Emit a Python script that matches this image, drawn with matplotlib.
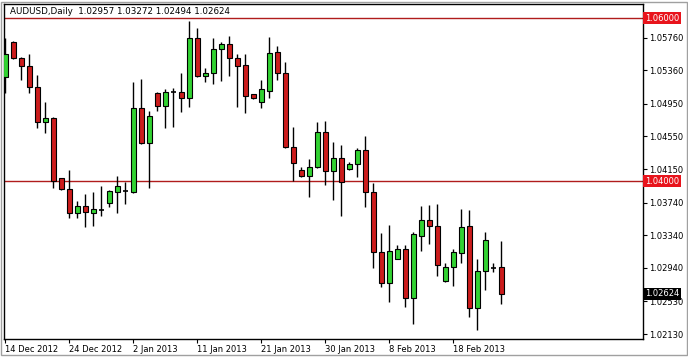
import matplotlib
matplotlib.use("Agg")
import matplotlib.pyplot as plt
import matplotlib.transforms as mtransforms
from matplotlib.patches import Rectangle
import numpy as np

symbol_title = "AUDUSD,Daily  1.02957 1.03272 1.02494 1.02624"

opens = [1.05282, 1.05711, 1.05508, 1.05410, 1.05152, 1.04731, 1.04773, 1.04038, 1.03903, 1.03609,
         1.03695, 1.03616, 1.03649, 1.03731, 1.03873, 1.03886, 1.03873, 1.04895, 1.04466, 1.05079,
         1.04927, 1.05099, 1.05091, 1.05018, 1.05762, 1.05295, 1.05331, 1.05618, 1.05679, 1.05517,
         1.05422, 1.05067, 1.04976, 1.05111, 1.05581, 1.05324, 1.04417, 1.04136, 1.04070, 1.04180,
         1.04601, 1.04131, 1.04283, 1.04148, 1.04209, 1.04381, 1.03866, 1.03139, 1.02751, 1.03049,
         1.03168, 1.02568, 1.03335, 1.03527, 1.03457, 1.02783, 1.02947, 1.03126, 1.03453, 1.02445,
         1.02898, 1.02943, 1.02957]
highs = [1.05753, 1.05720, 1.05527, 1.05557, 1.05303, 1.04969, 1.04792, 1.04045, 1.04139, 1.03760,
         1.03842, 1.03866, 1.03943, 1.03894, 1.04066, 1.03996, 1.05221, 1.05254, 1.04862, 1.05099,
         1.05132, 1.05140, 1.05324, 1.05968, 1.05885, 1.05393, 1.05760, 1.05711, 1.05781, 1.05557,
         1.05557, 1.05070, 1.05242, 1.05765, 1.05658, 1.05459, 1.04670, 1.04176, 1.04270, 1.04731,
         1.04740, 1.04486, 1.04446, 1.04241, 1.04413, 1.04556, 1.03986, 1.03364, 1.03466, 1.03221,
         1.03221, 1.03384, 1.03698, 1.03707, 1.03719, 1.02996, 1.03168, 1.03658, 1.03649, 1.03049,
         1.03376, 1.02996, 1.03272]
lows = [1.05079, 1.05505, 1.05242, 1.05086, 1.04650, 1.04589, 1.03915, 1.03895, 1.03548, 1.03555,
        1.03441, 1.03453, 1.03580, 1.03690, 1.03616, 1.03725, 1.03854, 1.04460, 1.03915, 1.04862,
        1.04650, 1.04670, 1.04846, 1.04915, 1.05280, 1.05221, 1.05189, 1.05230, 1.05291, 1.04915,
        1.04834, 1.05005, 1.04903, 1.05025, 1.05242, 1.04410, 1.04008, 1.04050, 1.03805, 1.04160,
        1.03956, 1.03772, 1.03580, 1.04139, 1.04057, 1.03680, 1.02935, 1.02702, 1.02526, 1.03045,
        1.02457, 1.02249, 1.03151, 1.03233, 1.02845, 1.02771, 1.02722, 1.03004, 1.02342, 1.02179,
        1.02669, 1.02886, 1.02494]
closes = [1.05557, 1.05508, 1.05417, 1.05152, 1.04731, 1.04773, 1.04008, 1.03903, 1.03609, 1.03695,
          1.03619, 1.03658, 1.03649, 1.03882, 1.03943, 1.03886, 1.04895, 1.04466, 1.04801, 1.04927,
          1.05091, 1.05099, 1.05018, 1.05762, 1.05285, 1.05331, 1.05618, 1.05679, 1.05517, 1.05417,
          1.05050, 1.05018, 1.05128, 1.05569, 1.05324, 1.04417, 1.04221, 1.04070, 1.04180, 1.04609,
          1.04131, 1.04283, 1.03989, 1.04209, 1.04381, 1.03866, 1.03139, 1.02751, 1.03151, 1.03168,
          1.02568, 1.03355, 1.03527, 1.03457, 1.02972, 1.02947, 1.03131, 1.03437, 1.02445, 1.02898,
          1.03282, 1.02943, 1.02624]

date_labels = ["14 Dec 2012", "24 Dec 2012", "2 Jan 2013", "11 Jan 2013",
               "21 Jan 2013", "30 Jan 2013", "8 Feb 2013", "18 Feb 2013"]
date_positions = [0, 8, 16, 24, 32, 40, 48, 56]

price_ticks = [1.05760, 1.05360, 1.04950, 1.04550, 1.04150, 1.03740, 1.03340, 1.02940, 1.02530, 1.02130]
level_lines = [1.06000, 1.04000]
last_price = 1.02624

BULL = "#32d232"
BEAR = "#cc1c1c"
LEVEL = "#b01c1c"
LABEL_RED = "#e8141c"

W, H = 688, 358
fig = plt.figure(figsize=(W / 100, H / 100), dpi=100)
fig.patch.set_facecolor("white")
ax = fig.add_axes([4 / W, (H - 339) / H, 639.3 / W, 335 / H])
ax.set_facecolor("white")

x = np.arange(len(opens))
o = np.array(opens); h = np.array(highs); l = np.array(lows); c = np.array(closes)

ax.vlines(x, l, h, color="black", linewidth=1.0, zorder=2)
bw = 0.62
up = c > o
down = c < o
doji = c == o
ax.bar(x[up], (c - o)[up], bottom=o[up], width=bw, color=BULL, edgecolor="black", linewidth=0.8, zorder=3)
ax.bar(x[down], (o - c)[down], bottom=c[down], width=bw, color=BEAR, edgecolor="black", linewidth=0.8, zorder=3)
ax.hlines(o[doji], x[doji] - bw / 2, x[doji] + bw / 2, color="black", linewidth=1.2, zorder=3)

for lv in level_lines:
    ax.axhline(lv, color=LEVEL, linewidth=1.0, zorder=1)

ax.set_xlim(-0.16, 79.75)
ax.set_ylim(1.02069, 1.06173)

ax.yaxis.tick_right()
ax.set_yticks(price_ticks)
ax.set_yticklabels([f"{p:.5f}" for p in price_ticks])
ax.tick_params(axis="y", direction="out", length=3, width=0.8, pad=1.5, labelsize=6, colors="black")
ax.set_xticks(date_positions)
ax.set_xticklabels(date_labels, ha="left")
ax.tick_params(axis="x", direction="out", length=3, width=0.8, pad=1.5, labelsize=6, colors="black")
for lbl in ax.get_xticklabels():
    lbl.set_x(0)

for s in ax.spines.values():
    s.set_color("black")
    s.set_linewidth(1.0)

trans = mtransforms.blended_transform_factory(ax.transAxes, ax.transData)
for lv in level_lines:
    ax.text(1.0025, lv, f"{lv:.5f}", transform=trans, ha="left", va="center", fontsize=6,
            color="white", zorder=5, clip_on=False,
            bbox=dict(boxstyle="square,pad=0.18", fc=LABEL_RED, ec="none"))
ax.text(1.0025, last_price, f"{last_price:.5f}", transform=trans, ha="left", va="center", fontsize=6,
        color="white", zorder=5, clip_on=False,
        bbox=dict(boxstyle="square,pad=0.18", fc="black", ec="none"))

ax.text(6 / 639.3, 1 - 8 / 335, symbol_title, transform=ax.transAxes, ha="left", va="center",
        fontsize=6.3, color="black", zorder=6)

# window frame
fig.add_artist(Rectangle((0.5 / W, 3.5 / H), (W - 1.5) / W, (H - 5) / H, transform=fig.transFigure,
                         fill=False, edgecolor="#a0a0a0", linewidth=1.0))

fig.savefig("out.png", dpi=100, facecolor="white")
